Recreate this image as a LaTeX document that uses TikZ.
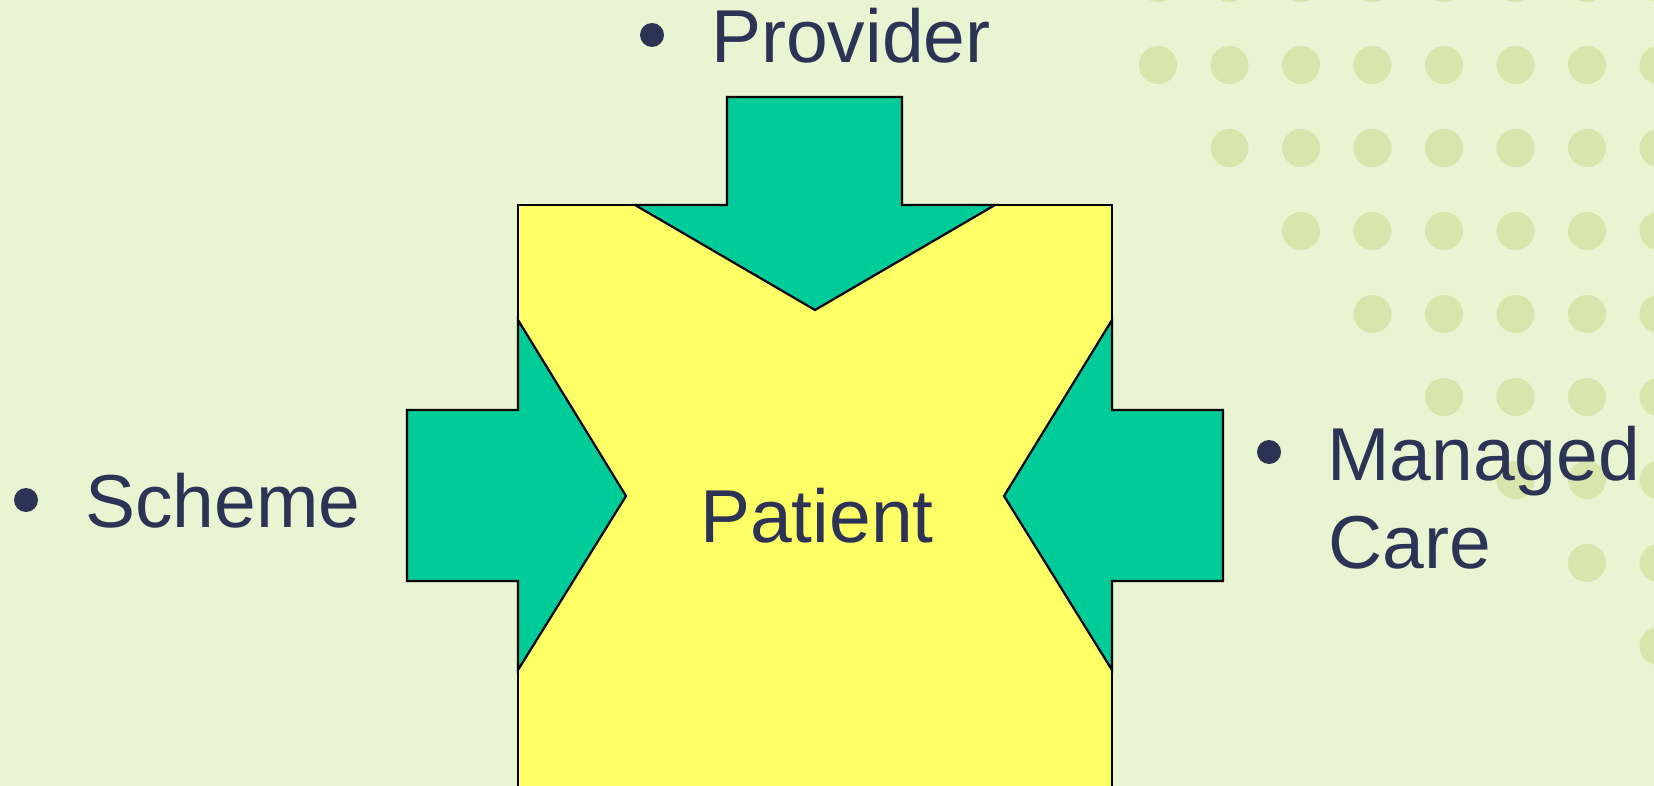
\documentclass[tikz,border=0pt]{standalone}
\usepackage{fontspec}
\setmainfont{Liberation Sans}
\definecolor{bgc}{HTML}{E8F4D2}
\definecolor{dotc}{HTML}{D8E6AE}
\definecolor{arrowc}{HTML}{00CC99}
\definecolor{boxc}{HTML}{FFFF66}
\definecolor{textc}{HTML}{2D3355}
\tikzset{
  shapeline/.style={draw=black, line width=2.2pt, line join=miter},
  label/.style={text=textc, inner sep=0pt, font=\fontsize{75}{88}\selectfont},
  bulletdot/.style={fill=textc},
  bgdot/.style={fill=dotc}
}
\begin{document}
\begin{tikzpicture}[x=1pt, y=-1pt]
\useasboundingbox (0,0) rectangle (1654,786);
\fill[bgc] (0,0) rectangle (1654,786);
\begin{scope}
\clip (0,0) rectangle (1654,786);
% decorative dots
\foreach \j in {0,...,7} {
  \fill[bgdot] ({1158+71.5*\j},-17) circle (19);
}
\foreach \i in {1,...,8} {
  \pgfmathtruncatemacro{\start}{\i-1}
  \foreach \j in {\start,...,7} {
    \fill[bgdot] ({1158+71.5*\j},{65+83*(\i-1)}) circle (19);
  }
}
% central patient box
\filldraw[fill=boxc, shapeline] (518,205) rectangle (1112,800);
% top arrow (Provider)
\filldraw[fill=arrowc, shapeline] (727,97) -- (902,97) -- (902,205) -- (995,205)
  -- (815,310) -- (635,205) -- (727,205) -- cycle;
% left arrow (Scheme)
\filldraw[fill=arrowc, shapeline] (407,410) -- (518,410) -- (518,320) -- (626,496)
  -- (518,670) -- (518,581) -- (407,581) -- cycle;
% right arrow (Managed Care)
\filldraw[fill=arrowc, shapeline] (1223,410) -- (1112,410) -- (1112,320) -- (1004,496)
  -- (1112,670) -- (1112,581) -- (1223,581) -- cycle;
\end{scope}
% bullets
\fill[bulletdot] (652,35) circle (12);
\fill[bulletdot] (26,500) circle (12);
\fill[bulletdot] (1269,452) circle (12);
% labels
\node[label, anchor=base west] (provider) at (711,63) {Provider};
\node[label, anchor=base west] (scheme) at (85,527) {Scheme};
\node[label, anchor=base] (patient) at (817,542) {Patient};
\node[label, anchor=base west] (managed) at (1327,480) {Managed};
\node[label, anchor=base west] (care) at (1328,568) {Care};
\end{tikzpicture}
\end{document}
